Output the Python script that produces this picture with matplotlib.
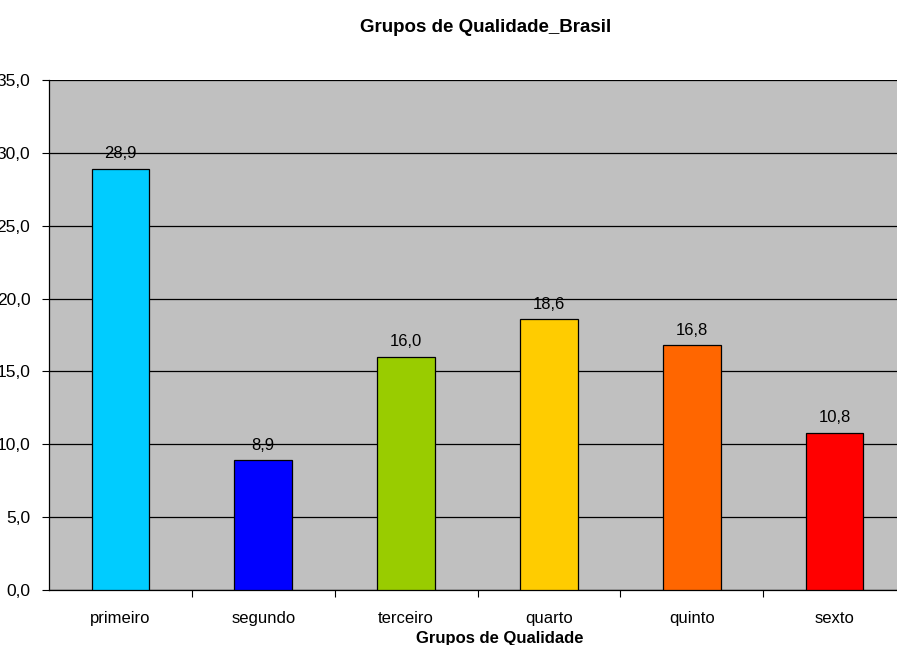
import matplotlib.pyplot as plt
from matplotlib.ticker import MultipleLocator, FuncFormatter

grupos = ["primeiro", "segundo", "terceiro", "quarto", "quinto", "sexto"]
valores = [28.9, 8.9, 16.0, 18.6, 16.8, 10.8]
cores = ["#00CCFF", "#0000FF", "#99CC00", "#FFCC00", "#FF6600", "#FF0000"]

plt.rcParams["font.family"] = ["Liberation Sans", "DejaVu Sans"]

W, H = 897, 645
fig = plt.figure(figsize=(W / 100, H / 100), dpi=100)
# plot area runs a little past the right edge, like the cropped original
ax = fig.add_axes([49 / W, 1 - 590 / H, (906 - 49) / W, (590 - 80) / H])
ax.set_facecolor("#C0C0C0")

x = list(range(len(grupos)))
bars = ax.bar(x, valores, width=0.403, color=cores, edgecolor="black", linewidth=0.9, zorder=3)
for b, v in zip(bars, valores):
    ax.annotate(f"{v:.1f}".replace(".", ","), (b.get_x() + b.get_width() / 2, v),
                xytext=(0, 7.5), textcoords="offset points",
                ha="center", va="baseline", fontsize=12)

ax.set_xlim(-0.5, len(grupos) - 0.5)
ax.set_ylim(0, 35)
ax.yaxis.set_major_locator(MultipleLocator(5))
ax.yaxis.set_major_formatter(FuncFormatter(lambda v, p: f"{v:.1f}".replace(".", ",")))
ax.grid(axis="y", color="black", linewidth=0.9, zorder=0)

ax.set_xticks([i + 0.5 for i in x[:-1]])
ax.set_xticklabels([])
ax.set_xticks(x, minor=True)
ax.set_xticklabels(grupos, minor=True, fontsize=12)
ax.tick_params(axis="x", which="minor", length=0, pad=15)
ax.tick_params(axis="x", which="major", length=5, direction="out")
ax.tick_params(axis="y", length=5, direction="out", labelsize=12.5, pad=8.5)

for s in ["top", "right"]:
    ax.spines[s].set_visible(False)
for s in ["left", "bottom"]:
    ax.spines[s].set_linewidth(0.9)

fig.text(500 / W, 1 - 639 / H, "Grupos de Qualidade",
         ha="center", va="center", fontsize=12, fontweight="bold")
fig.text(486 / W, 1 - 28 / H, "Grupos de Qualidade_Brasil",
         ha="center", va="center", fontsize=13.5, fontweight="bold")

fig.savefig("out.png", dpi=100)
